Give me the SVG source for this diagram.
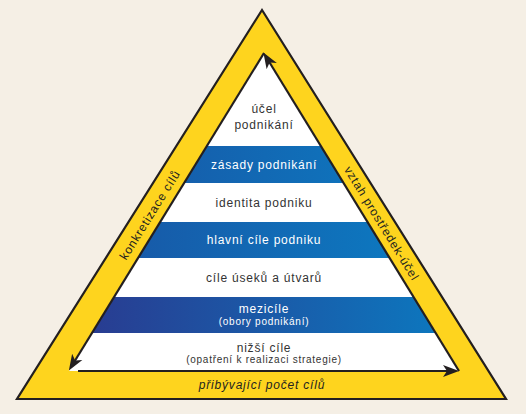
<svg xmlns="http://www.w3.org/2000/svg" width="526" height="414" viewBox="0 0 526 414">
  <style>
    .t { font-family: "Liberation Sans", Arial, sans-serif; font-size: 12px; letter-spacing: 0.8px; text-anchor: middle; }
    .s { font-family: "Liberation Sans", Arial, sans-serif; font-size: 10px; letter-spacing: 0.75px; text-anchor: middle; }
    .dk { fill: #333333; }
    .wt { fill: #ffffff; }
    .side { font-family: "Liberation Sans", Arial, sans-serif; font-size: 12px; letter-spacing: 0.8px; text-anchor: middle; fill: #231f20; }
    .edge { fill: none; stroke: #231f20; stroke-width: 2.2; }
  </style>
  <defs>
    <linearGradient id="blue" x1="0" y1="0" x2="1" y2="0">
      <stop offset="0" stop-color="#1a52a2"/>
      <stop offset="1" stop-color="#0a80c6"/>
    </linearGradient>
    <linearGradient id="navy" x1="0" y1="0" x2="1" y2="0">
      <stop offset="0" stop-color="#2b378d"/>
      <stop offset="1" stop-color="#0a7cc2"/>
    </linearGradient>
    <clipPath id="inner">
      <polygon points="264,53 69,371 459,371"/>
    </clipPath>
    <marker id="arr" markerUnits="userSpaceOnUse" markerWidth="16" markerHeight="14" viewBox="0 0 16 14" refX="10" refY="7" orient="auto">
      <path d="M0,1 L16,7 L0,13 L4,7 Z" fill="#231f20"/>
    </marker>
  </defs>

  <rect width="526" height="414" fill="#f5efe5"/>

  <g id="outer-triangle">
    <polygon points="262,10 17,399 506,399" fill="#fed41e" stroke="#231f20" stroke-width="2.2" stroke-linejoin="miter"/>
  </g>

  <g id="pyramid" clip-path="url(#inner)">
    <rect x="60" y="50" width="410" height="330" fill="#ffffff"/>
    <rect x="60" y="146" width="410" height="37" fill="url(#blue)"/>
    <rect x="60" y="222" width="410" height="36" fill="url(#blue)"/>
    <rect x="60" y="297" width="410" height="36" fill="url(#navy)"/>
  </g>

  <g id="level-ucel">
    <text class="t dk" x="264" y="113">účel</text>
    <text class="t dk" x="264" y="129">podnikání</text>
  </g>
  <g id="level-zasady">
    <text class="t wt" x="264" y="169">zásady podnikání</text>
  </g>
  <g id="level-identita">
    <text class="t dk" x="264" y="207">identita podniku</text>
  </g>
  <g id="level-hlavni">
    <text class="t wt" x="264" y="244">hlavní cíle podniku</text>
  </g>
  <g id="level-cile-useku">
    <text class="t dk" x="264" y="282">cíle úseků a útvarů</text>
  </g>
  <g id="level-mezicile">
    <text class="t wt" x="264" y="313">mezicíle</text>
    <text class="s wt" x="264" y="325">(obory podnikání)</text>
  </g>
  <g id="level-nizsi">
    <text class="t dk" x="264" y="352">nižší cíle</text>
    <text class="s dk" x="264" y="363">(opatření k realizaci strategie)</text>
  </g>

  <g id="connectors">
    <path class="edge" d="M264,53 L72,365.5" marker-end="url(#arr)"/>
    <path class="edge" d="M78,371 L453,371" marker-end="url(#arr)"/>
    <path class="edge" d="M459,371 L266.5,57.5" marker-end="url(#arr)"/>
  </g>

  <g id="label-konkretizace">
    <text class="side" transform="translate(150,215) rotate(-58)" y="4">konkretizace cílů</text>
  </g>
  <g id="label-vztah">
    <text class="side" transform="translate(381.5,223.5) rotate(58.5)" y="4">vztah prostředek-účel</text>
  </g>
  <g id="label-pribyvajici">
    <text class="side" x="262" y="389" font-style="italic">přibývající počet cílů</text>
  </g>
</svg>
